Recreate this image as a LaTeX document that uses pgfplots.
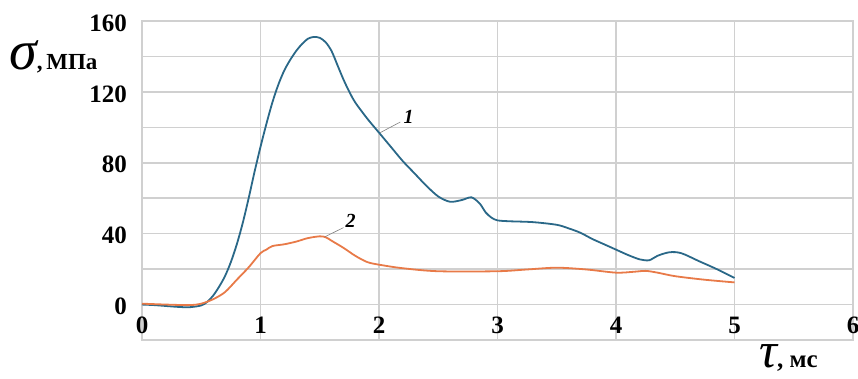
\documentclass[border=0pt]{standalone}
\usepackage{fontspec}
\setmainfont{Liberation Serif}
\usepackage{pgfplots}
\pgfplotsset{compat=1.18}

\definecolor{curveA}{RGB}{42,104,136}
\definecolor{curveB}{RGB}{232,122,72}
\definecolor{gridc}{RGB}{208,208,208}

\begin{document}
\begin{tikzpicture}[x=1pt,y=1pt]
\useasboundingbox (0,0) rectangle (858,378);
\begin{axis}[
  at={(142pt,38pt)}, anchor=south west,
  scale only axis, width=711pt, height=319pt,
  xmin=0, xmax=6, ymin=-20, ymax=160,
  xtick={0,1,...,6},
  ytick={-20,0,20,40,60,80,100,120,140,160},
  yticklabels={{},0,{},40,{},80,{},120,{},160},
  grid=major,
  grid style={draw=gridc, line width=1.5pt},
  axis line style={draw=gridc, line width=1.5pt},
  major tick length=0pt,
  /pgf/number format/assume math mode=true,
  tick label style={font=\fontsize{25}{25}\selectfont\bfseries, inner sep=0pt},
  xticklabel style={anchor=center, yshift=15pt},
  yticklabel style={anchor=east, xshift=-15pt, yshift=-2pt},
  clip=false,
]
% curve 1
\addplot[curveA, line width=1.8pt, smooth] coordinates {
 (0,0) (0.1,-0.3) (0.2,-0.8) (0.3,-1.3) (0.4,-1.5) (0.5,-0.5) (0.55,1.5)
 (0.6,5) (0.65,10) (0.7,16) (0.75,24) (0.8,34) (0.85,46) (0.9,60) (0.95,75)
 (1.0,89) (1.05,102) (1.1,114) (1.15,124) (1.2,132) (1.25,138) (1.3,143)
 (1.35,147) (1.4,150) (1.45,151) (1.5,150.5) (1.55,148) (1.6,143) (1.65,135)
 (1.7,127) (1.75,120) (1.8,114) (1.9,105) (2.0,97) (2.1,89) (2.2,81)
 (2.3,74) (2.4,67) (2.5,61) (2.6,58) (2.7,59) (2.78,60.5) (2.85,57)
 (2.9,52) (2.95,49) (3.0,47.5) (3.1,47) (3.3,46.5) (3.5,45) (3.6,43)
 (3.7,40.5) (3.8,37) (3.9,34) (4.0,31) (4.1,28) (4.2,25.5) (4.28,25)
 (4.35,27.5) (4.45,29.5) (4.55,29) (4.7,24.5) (4.85,20) (5.0,15)
};
% curve 2
\addplot[curveB, line width=1.8pt, smooth] coordinates {
 (0,0.5) (0.2,0) (0.4,-0.3) (0.5,0.5) (0.6,3) (0.7,7) (0.8,14) (0.9,21)
 (1.0,29) (1.05,31) (1.1,33) (1.2,34) (1.3,35.5) (1.4,37.5) (1.5,38.5)
 (1.55,38) (1.6,36) (1.7,32) (1.8,27.5) (1.9,24) (2.0,22.5) (2.2,20.5)
 (2.5,18.8) (3.0,18.8) (3.25,19.8) (3.5,20.8) (3.75,19.8) (4.0,18)
 (4.15,18.5) (4.25,19) (4.35,18) (4.5,16) (4.75,14) (5.0,12.5)
};
% curve labels with leaders
\draw[gray, line width=0.6pt] (axis cs:2.01,97) -- (axis cs:2.18,103);
\node[font=\fontsize{20}{20}\selectfont\bfseries\itshape] at (axis cs:2.25,106) {1};
\draw[gray, line width=0.6pt] (axis cs:1.545,38.3) -- (axis cs:1.70,43.4);
\node[font=\fontsize{20}{20}\selectfont\bfseries\itshape] at (axis cs:1.76,47) {2};
\end{axis}
% axis titles
\node[anchor=base west, inner sep=0pt] at (9,308)
  {{\fontsize{56}{56}\selectfont\itshape σ}{\fontsize{23}{23}\selectfont\bfseries,\,МПа}};
\node[anchor=base west, inner sep=0pt] at (759,11)
  {{\fontsize{50}{50}\selectfont\itshape τ}{\fontsize{25}{25}\selectfont\bfseries, мс}};
\end{tikzpicture}
\end{document}
